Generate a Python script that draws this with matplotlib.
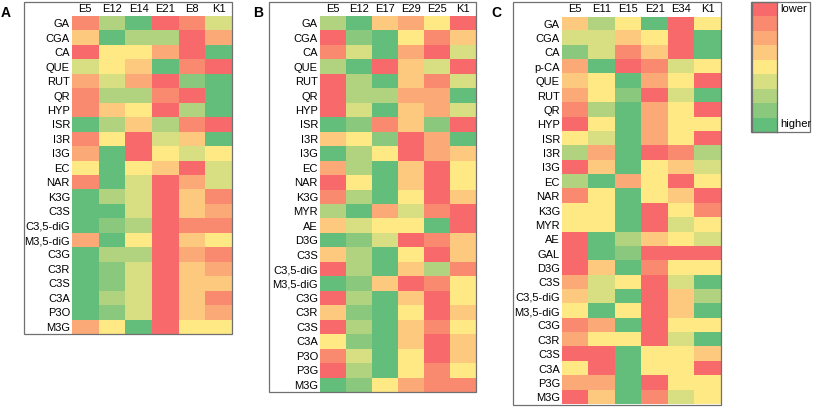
import matplotlib
matplotlib.use("Agg")
import matplotlib.pyplot as plt
from matplotlib.colors import ListedColormap
from matplotlib.patches import Rectangle
import numpy as np

plt.rcParams['font.family'] = ['Liberation Sans', 'DejaVu Sans']

# Levels: 0 = lower (red) ... 8 = higher (green)
cols_A = ["E5", "E12", "E14", "E21", "E8", "K1"]
rows_A = ["GA", "CGA", "CA", "QUE", "RUT", "QR", "HYP", "ISR", "I3R", "I3G", "EC", "NAR",
          "K3G", "C3S", "C3,5-diG", "M3,5-diG", "C3G", "C3R", "C3S", "C3A", "P3O", "M3G"]
vals_A = [
    [1, 6, 8, 0, 1, 5],
    [3, 8, 6, 6, 0, 2],
    [0, 4, 4, 2, 0, 8],
    [5, 4, 3, 8, 1, 0],
    [2, 5, 2, 0, 7, 8],
    [1, 6, 6, 1, 0, 8],
    [1, 3, 4, 0, 6, 8],
    [8, 6, 3, 6, 1, 0],
    [1, 4, 0, 5, 3, 8],
    [2, 8, 0, 4, 5, 4],
    [4, 8, 4, 3, 0, 5],
    [1, 8, 5, 0, 2, 5],
    [8, 6, 5, 0, 3, 1],
    [8, 8, 5, 0, 3, 2],
    [8, 7, 6, 0, 1, 1],
    [2, 8, 4, 0, 3, 4],
    [8, 6, 6, 0, 2, 1],
    [8, 7, 5, 0, 3, 2],
    [8, 7, 5, 0, 3, 3],
    [8, 6, 5, 0, 3, 1],
    [8, 7, 5, 0, 3, 2],
    [2, 4, 8, 0, 4, 4],
]

cols_B = ["E5", "E12", "E17", "E29", "E25", "K1"]
rows_B = ["GA", "CGA", "CA", "QUE", "RUT", "QR", "HYP", "ISR", "I3R", "I3G", "EC", "NAR",
          "K3G", "MYR", "AE", "D3G", "C3S", "C3,5-diG", "M3,5-diG", "C3G", "C3R", "C3S",
          "C3A", "P3O", "P3G", "M3G"]
vals_B = [
    [6, 8, 3, 2, 4, 0],
    [0, 7, 8, 4, 1, 3],
    [1, 5, 8, 2, 0, 5],
    [6, 8, 0, 3, 5, 0],
    [0, 6, 8, 3, 1, 5],
    [0, 6, 6, 2, 2, 8],
    [0, 5, 8, 3, 2, 5],
    [8, 7, 1, 3, 7, 0],
    [3, 4, 7, 0, 2, 8],
    [8, 6, 4, 0, 2, 3],
    [2, 6, 8, 3, 0, 4],
    [0, 4, 8, 3, 0, 4],
    [1, 6, 8, 4, 0, 3],
    [6, 8, 2, 5, 1, 0],
    [3, 5, 4, 4, 8, 0],
    [8, 7, 5, 0, 1, 3],
    [3, 6, 8, 4, 0, 3],
    [0, 6, 8, 3, 6, 1],
    [8, 7, 3, 0, 1, 4],
    [0, 6, 8, 3, 0, 4],
    [3, 7, 8, 4, 0, 3],
    [0, 6, 8, 3, 1, 4],
    [4, 7, 8, 3, 0, 3],
    [1, 5, 8, 4, 0, 3],
    [0, 6, 8, 4, 1, 4],
    [8, 7, 4, 2, 1, 1],
]

cols_C = ["E5", "E11", "E15", "E21", "E34", "K1"]
rows_C = ["GA", "CGA", "CA", "p-CA", "QUE", "RUT", "QR", "HYP", "ISR", "I3R", "I3G", "EC",
          "NAR", "K3G", "MYR", "AE", "GAL", "D3G", "C3S", "C3,5-diG", "M3,5-diG", "C3G",
          "C3R", "C3S", "C3A", "P3G", "M3G"]
vals_C = [
    [3, 6, 4, 8, 0, 4],
    [5, 5, 3, 4, 0, 8],
    [7, 5, 1, 3, 0, 8],
    [2, 8, 0, 1, 5, 4],
    [3, 4, 8, 2, 4, 0],
    [2, 4, 7, 0, 5, 8],
    [1, 6, 8, 2, 4, 0],
    [0, 4, 8, 2, 4, 4],
    [4, 5, 8, 2, 4, 0],
    [6, 2, 8, 0, 1, 6],
    [0, 3, 8, 4, 3, 5],
    [6, 8, 2, 4, 0, 4],
    [1, 4, 8, 4, 3, 0],
    [4, 4, 8, 0, 4, 1],
    [4, 4, 8, 0, 5, 4],
    [0, 8, 6, 3, 4, 5],
    [0, 8, 7, 0, 0, 0],
    [0, 3, 8, 1, 4, 4],
    [2, 5, 4, 0, 5, 8],
    [3, 5, 8, 0, 3, 6],
    [4, 8, 4, 0, 3, 8],
    [1, 2, 8, 0, 4, 4],
    [2, 4, 4, 0, 5, 8],
    [0, 0, 8, 4, 4, 3],
    [4, 0, 8, 4, 4, 0],
    [2, 2, 8, 0, 4, 4],
    [0, 3, 8, 1, 5, 4],
]

legend_labels = ["lower", "higher"]
panel_letters = ["A", "B", "C"]

colors = ["#F8696B", "#F98A70", "#FCA978", "#FDC97E", "#FFE984",
          "#D8DE82", "#B1D37F", "#8AC87D", "#63BE7B"]
cmap = ListedColormap(colors)

W, H = 817, 408
fig = plt.figure(figsize=(W / 100, H / 100), dpi=100)


def fx(x):
    return x / W


def fy(y):
    return 1 - y / H


def add_axes_px(x0, y0, x1, y1):
    return fig.add_axes([fx(x0), fy(y1), fx(x1) - fx(x0), (y1 - y0) / H])


FS = 8.0
frame_color = "#707070"

panels = [
    (cols_A, rows_A, vals_A, (72, 16, 232, 334), (24, 2), (6, 13)),
    (cols_B, rows_B, vals_B, (320, 16, 476, 392), (269, 2), (258, 13)),
    (cols_C, rows_C, vals_C, (562, 16.5, 721, 404.5), (513, 2), (496, 13)),
]

for (cols, rows, vals, (x0, y0, x1, y1), (fl, ft), (lx, ly)), letter in zip(panels, panel_letters):
    ax = add_axes_px(x0, y0, x1, y1)
    data = np.array(vals)
    ax.imshow(data, cmap=cmap, vmin=-0.5, vmax=8.5, aspect="auto", interpolation="nearest")
    ax.set_xticks(range(len(cols)))
    ax.set_xticklabels(cols, fontsize=FS)
    ax.set_yticks(range(len(rows)))
    ax.set_yticklabels(rows, fontsize=FS)
    ax.xaxis.tick_top()
    ax.tick_params(axis="x", length=0, pad=1.5)
    ax.tick_params(axis="y", length=0, pad=1.5)
    for s in ax.spines.values():
        s.set_visible(False)
    # outer frame
    fig.patches.append(Rectangle((fx(fl), fy(y1)), fx(x1) - fx(fl), fy(ft) - fy(y1),
                                 transform=fig.transFigure, fill=False,
                                 edgecolor=frame_color, linewidth=0.9))
    fig.text(fx(lx), fy(ly), letter, fontsize=10, fontweight="bold",
             ha="center", va="center")

# legend color bar
lax = add_axes_px(752, 2, 777, 132)
lax.imshow(np.arange(9)[:, None], cmap=cmap, vmin=-0.5, vmax=8.5, aspect="auto",
           interpolation="nearest")
lax.set_xticks([])
lax.set_yticks([])
for s in lax.spines.values():
    s.set_edgecolor(frame_color)
    s.set_linewidth(0.9)
fig.patches.append(Rectangle((fx(751), fy(132)), fx(810) - fx(751), fy(2) - fy(132),
                             transform=fig.transFigure, fill=False,
                             edgecolor=frame_color, linewidth=0.9))
fig.text(fx(780), fy(9), legend_labels[0], fontsize=FS, ha="left", va="center")
fig.text(fx(780), fy(124), legend_labels[1], fontsize=FS, ha="left", va="center")

fig.savefig("out.png", dpi=100, facecolor="white")
